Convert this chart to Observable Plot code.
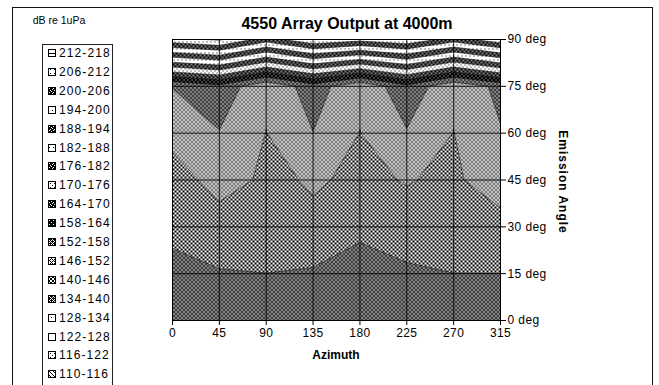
<!DOCTYPE html>
<html>
<head>
<meta charset="utf-8">
<script src="https://cdn.jsdelivr.net/npm/d3@7"></script>
<script src="https://cdn.jsdelivr.net/npm/@observablehq/plot@0.6"></script>
<style>
  body { margin: 0; background: #fff; font-family: Arial, "Liberation Sans", sans-serif; color: #000; }
  #wrap { position: relative; width: 659px; height: 385px; overflow: hidden; }
  #wrap > svg { position: absolute; left: 0; top: 0; }
  .outer { position: absolute; left: 12px; top: 7px; width: 641px; height: 420px; border: 1px solid #111; box-sizing: border-box; }
  .title { position: absolute; left: 197px; width: 300px; top: 15px; text-align: center; font-weight: bold; font-size: 16px; }
  .xlabel { position: absolute; left: 286px; width: 100px; top: 348px; text-align: center; font-weight: bold; font-size: 12px; }
  .ylabel { position: absolute; left: 563px; top: 182px; width: 0; height: 0; }
  .ylabel span { position: absolute; left: 0; top: 0; transform: translate(-50%, -50%) rotate(90deg); white-space: nowrap; font-weight: bold; font-size: 12px; letter-spacing: 1px; }
  .unit { position: absolute; left: 30px; width: 58px; top: 14px; text-align: center; font-size: 10.5px; }
  .legend { position: absolute; left: 42px; top: 44px; width: 71px; height: 400px; border: 1px solid #222; box-sizing: border-box; }
  .item { position: absolute; left: 5px; height: 14px; display: flex; align-items: center; font-size: 12px; letter-spacing: 1.1px; white-space: nowrap; }
  .item svg { margin-right: 3px; }
</style>
</head>
<body>
<div id="wrap"></div>
<script>
// Azimuth columns and emission-angle rows of the beam pattern grid
const azimuths = [0, 45, 90, 135, 180, 225, 270, 315];
const elevations = [0, 15, 30, 45, 60, 75, 90];

// Array output (dB re 1uPa), one list per emission angle, one value per azimuth
const out0  = [137.0, 136.5, 136.0, 136.5, 137.5, 136.5, 136.0, 136.0];
const out15 = [138.6, 139.45, 139.95, 139.15, 138.0, 138.3, 139.95, 139.95];
const out30 = [141.2, 144.63, 144.0, 145.56, 141.0, 145.41, 143.5, 145.27];
const out45 = [144.5, 147.2, 145.51, 146.22, 145.64, 146.09, 145.685, 147.1];
const out60 = [147.06, 151.7, 145.9, 151.9, 145.9, 151.5, 145.9, 151.55];
const out75 = [152.24, 156.2, 147.0, 155.1, 147.0, 156.4, 147.0, 153.8];
const out90 = [210.0, 213.0, 203.0, 211.0, 208.0, 211.0, 203.0, 210.0];

// Contour bands: lower edges and legend labels
const bandLows = [110, 116, 122, 128, 134, 140, 146, 152, 158, 164, 170, 176, 182, 188, 194, 200, 206, 212];
const bandLabels = ["110-116", "116-122", "122-128", "128-134", "134-140", "140-146", "146-152", "152-158", "158-164",
  "164-170", "170-176", "176-182", "182-188", "188-194", "194-200", "200-206", "206-212", "212-218"];

// Black-and-white fill tiles for each band (X = black pixel)
const bandTiles = [
  ["X...", ".X..", "..X.", "...X"],
  ["X...", "....", "..X.", "...."],
  ["....", "....", "....", "...."],
  ["....", "....", "....", "...X"],
  [".X.X", "X.XX", ".X.X", "XXX."],
  ["XX..", "XX..", "..XX", "..XX"],
  ["X.X.", "...X", "X.X.", ".X.."],
  ["X.X.", ".XXX", "X.X.", "XX.X"],
  ["XXXX", "X.XX", "XXXX", "XXX."],
  ["XX.X", "XXX.", "X.XX", ".XXX"],
  ["X...", "....", "..X.", "...."],
  ["XXX.", "X.XX", ".XXX", "XX.X"],
  ["....", "....", "....", ".X.."],
  ["XX.X", "X.XX", "XXX.", ".XXX"],
  ["X...", "....", "....", "...."],
  ["XXX.", "X.XX", ".XXX", "XX.X"],
  ["....", "..X.", "....", "...."],
  ["XXXX", "....", "....", "...."]
];

const grid = [out0, out15, out30, out45, out60, out75, out90].flat();
const halfAz = (azimuths[1] - azimuths[0]) / 2;
const halfEl = (elevations[1] - elevations[0]) / 2;

const chart = Plot.plot({
  width: 659,
  height: 385,
  marginLeft: 172,
  marginRight: 159,
  marginTop: 39,
  marginBottom: 65,
  style: { fontFamily: "Arial, 'Liberation Sans', sans-serif", fontSize: "12px", background: "transparent", overflow: "visible", letterSpacing: "0.4px" },
  x: { domain: [azimuths[0], azimuths[azimuths.length - 1]] },
  y: { domain: [elevations[0], elevations[elevations.length - 1]] },
  color: { type: "ordinal", domain: bandLows, range: bandLows.map((d, i) => `url(#band${i})`) },
  marks: [
    Plot.contour(grid, {
      width: azimuths.length,
      height: elevations.length,
      x1: azimuths[0] - halfAz,
      x2: azimuths[azimuths.length - 1] + halfAz,
      y1: elevations[0] - halfEl,
      y2: elevations[elevations.length - 1] + halfEl,
      fill: Plot.identity,
      thresholds: bandLows,
      stroke: "#000",
      strokeWidth: 0.6,
      strokeOpacity: 0.75,
      clip: true
    }),
    Plot.gridX(azimuths, { stroke: "#000", strokeOpacity: 0.85 }),
    Plot.gridY(elevations, { stroke: "#000", strokeOpacity: 0.85 }),
    Plot.frame({ stroke: "#000" }),
    Plot.axisX(azimuths, { tickSize: 5, tickPadding: 3, label: null }),
    Plot.axisY(elevations, { anchor: "right", tickSize: 5, tickPadding: 2, tickFormat: d => `${d} deg`, label: null })
  ]
});

// Pattern definitions used by the contour fills and the legend swatches
const defs = d3.select(chart).insert("defs", ":first-child");
bandTiles.forEach((rows, i) => {
  const h = rows.length, w = rows[0].length;
  const p = defs.append("pattern").attr("id", `band${i}`)
    .attr("patternUnits", "userSpaceOnUse").attr("width", w).attr("height", h);
  p.append("rect").attr("width", w).attr("height", h).attr("fill", "#fff");
  rows.forEach((r, y) => [...r].forEach((c, x) => {
    if (c === "X") p.append("rect").attr("x", x).attr("y", y).attr("width", 1).attr("height", 1)
      .attr("fill", "#000").attr("shape-rendering", "crispEdges");
  }));
});

const wrap = document.getElementById("wrap");
wrap.appendChild(chart);

function addDiv(cls, html) {
  const d = document.createElement("div");
  d.className = cls;
  d.innerHTML = html;
  wrap.appendChild(d);
  return d;
}

addDiv("outer", "");
addDiv("title", "4550 Array Output at 4000m");
addDiv("xlabel", "Azimuth");
addDiv("ylabel", "<span>Emission Angle</span>");
addDiv("unit", "dB re 1uPa");

// Legend, highest band on top
const legend = addDiv("legend", "");
const order = bandLows.map((d, i) => i).reverse();
order.forEach((bi, k) => {
  const it = document.createElement("div");
  it.className = "item";
  it.style.top = (1 + k * 18.9) + "px";
  it.innerHTML = `<svg width="8" height="8"><rect x="0.5" y="0.5" width="7" height="7" fill="url(#band${bi})" stroke="#000"/></svg>${bandLabels[bi]}`;
  legend.appendChild(it);
});
</script>
</body>
</html>
